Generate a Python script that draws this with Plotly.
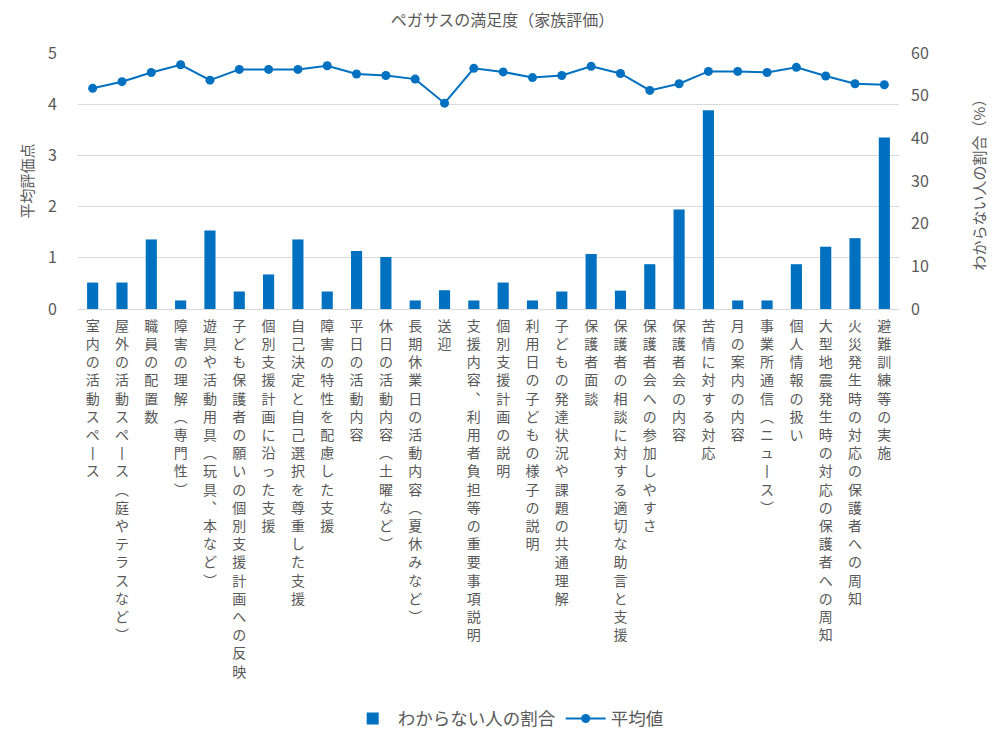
import plotly.graph_objects as go

categories = [
    "室内の活動スペース",
    "屋外の活動スペース（庭やテラスなど）",
    "職員の配置数",
    "障害の理解（専門性）",
    "遊具や活動用具（玩具、本など）",
    "子ども保護者の願いの個別支援計画への反映",
    "個別支援計画に沿った支援",
    "自己決定と自己選択を尊重した支援",
    "障害の特性を配慮した支援",
    "平日の活動内容",
    "休日の活動内容（土曜など）",
    "長期休業日の活動内容（夏休みなど）",
    "送迎",
    "支援内容、利用者負担等の重要事項説明",
    "個別支援計画の説明",
    "利用日の子どもの様子の説明",
    "子どもの発達状況や課題の共通理解",
    "保護者面談",
    "保護者の相談に対する適切な助言と支援",
    "保護者会への参加しやすさ",
    "保護者会の内容",
    "苦情に対する対応",
    "月の案内の内容",
    "事業所通信（ニュース）",
    "個人情報の扱い",
    "大型地震発生時の対応の保護者への周知",
    "火災発生時の対応の保護者への周知",
    "避難訓練等の実施",
]

unknown_pct = [6.2, 6.2, 16.3, 2.0, 18.4, 4.1, 8.1, 16.3, 4.1, 13.6,
               12.2, 2.0, 4.4, 2.0, 6.2, 2.0, 4.1, 12.9, 4.3, 10.5,
               23.3, 46.6, 2.0, 2.0, 10.5, 14.6, 16.6, 40.2]

mean_score = [4.31, 4.44, 4.62, 4.77, 4.47, 4.68, 4.68, 4.68, 4.75, 4.59,
              4.56, 4.49, 4.02, 4.70, 4.63, 4.52, 4.56, 4.74, 4.60, 4.27,
              4.40, 4.64, 4.64, 4.62, 4.72, 4.55, 4.40, 4.38]

left_ticks = [0, 1, 2, 3, 4, 5]
right_ticks = [0, 10, 20, 30, 40, 50, 60]

title_text = "ペガサスの満足度（家族評価）"
left_title = "平均評価点"
right_title = "わからない人の割合（%）"
bar_name = "わからない人の割合"
line_name = "平均値"

VERT = {"（": "︵", "）": "︶", "、": "︑", "ー": "丨", "(": "︵", ")": "︶"}


def vertical(s):
    return "<br>".join(VERT.get(c, c) for c in s)


ticktext = [vertical(c) for c in categories]

BLUE = "#0070C0"
GRAY = "#595959"
FONT = "Noto Sans CJK JP"

fig = go.Figure()
fig.add_trace(go.Bar(
    x=categories, y=unknown_pct, name=bar_name, yaxis="y2",
    marker=dict(color=BLUE, line=dict(width=0)),
))
fig.add_trace(go.Scatter(
    x=categories, y=mean_score, name=line_name, yaxis="y",
    mode="lines+markers",
    line=dict(color=BLUE, width=2),
    marker=dict(color=BLUE, size=9),
))

# page body has an 8px default margin, so the figure is offset by 8px
fig.update_layout(
    width=989, height=725,
    paper_bgcolor="white", plot_bgcolor="white",
    font=dict(family=FONT, color=GRAY, size=14),
    margin=dict(l=70, r=98, t=45, b=424, autoexpand=False),
    title=dict(text=title_text, x=0.5, xanchor="center", y=0.983, yanchor="middle",
               font=dict(size=16, color=GRAY, family=FONT)),
    bargap=0.62,
    showlegend=True,
    legend=dict(orientation="h", x=0.524, xanchor="center", y=-1.6, yanchor="middle",
                font=dict(size=17.5, color=GRAY, family=FONT), traceorder="normal",
                itemwidth=40),
    xaxis=dict(
        tickmode="array", tickvals=categories, ticktext=ticktext,
        range=[-0.5, len(categories) - 0.5],
        tickangle=0, tickfont=dict(size=14, color=GRAY, family=FONT),
        showgrid=False, showline=True, linecolor="#D9D9D9", linewidth=1,
        ticks="", automargin=False, ticklabelstandoff=4,
    ),
    yaxis=dict(
        range=[0, 5], tickvals=left_ticks, tickfont=dict(size=16, color=GRAY, family=FONT),
        showgrid=True, gridcolor="#D9D9D9", gridwidth=1, zeroline=False,
        showline=False, ticks="", ticklabelstandoff=20,
        title=dict(text=left_title, font=dict(size=15, color=GRAY, family=FONT), standoff=10),
        automargin=False,
    ),
    yaxis2=dict(
        range=[0, 60], tickvals=right_ticks, overlaying="y", side="right",
        tickfont=dict(size=16, color=GRAY, family=FONT),
        showgrid=False, zeroline=False, showline=False, ticks="", ticklabelstandoff=11,
        title=dict(text=right_title, font=dict(size=15, color=GRAY, family=FONT), standoff=46),
        automargin=False,
    ),
)

fig.write_html("out.html")
